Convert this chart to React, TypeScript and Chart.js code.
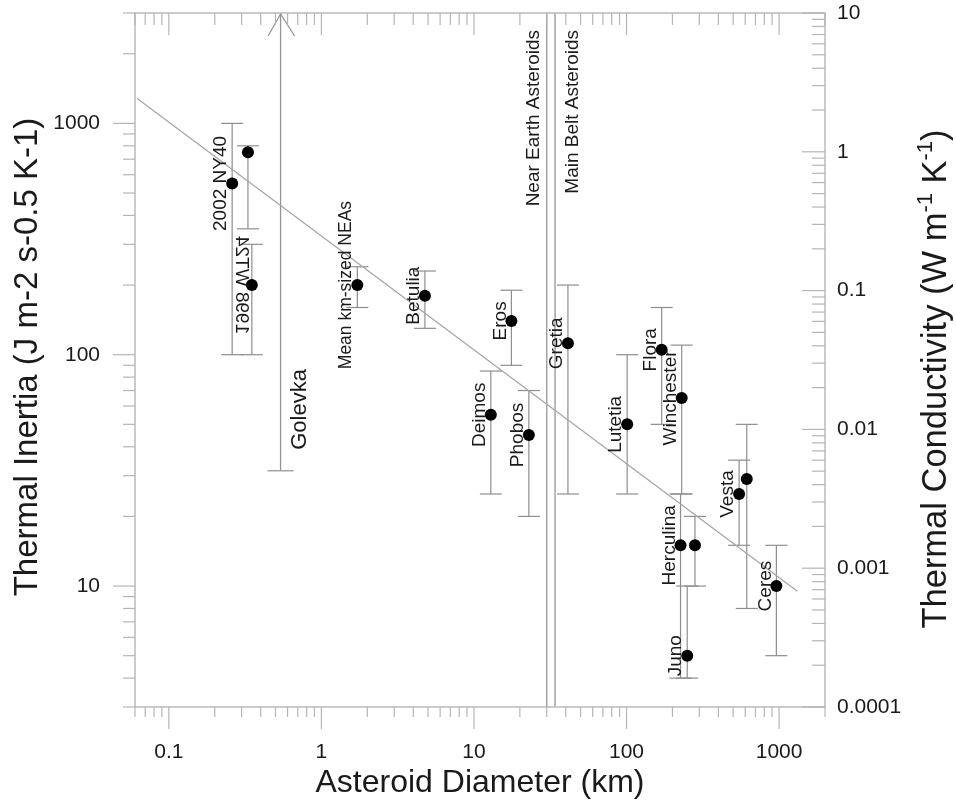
import React, { useEffect, useRef } from 'react';
import { Chart, registerables } from 'chart.js';

Chart.register(...registerables);

// ---- data -------------------------------------------------------------
const asteroidNames = [
  '2002 NY40', '', '1998 WT24', 'Mean km-sized NEAs', 'Betulia', 'Eros', 'Deimos', 'Phobos',
  'Gretia', 'Lutetia', 'Flora', 'Winchester', 'Herculina', '', 'Juno', 'Vesta', '', 'Ceres',
];
const diameterKm = [0.26, 0.33, 0.35, 1.72, 4.77, 17.6, 12.9, 22.9, 41.3, 101, 170, 230, 226, 281, 250, 547, 614, 960];
const inertia = [550, 750, 200, 200, 180, 140, 55, 45, 112, 50, 105, 65, 15, 15, 5, 25, 29, 10];
const inertiaLow = [100, 350, 100, 160, 130, 90, 25, 20, 25, 25, 50, 25, 4, 10, 4, 15, 8, 5];
const inertiaHigh = [1000, 800, 300, 240, 230, 190, 85, 70, 200, 100, 160, 110, 25, 20, 10, 35, 50, 15];

// Golevka: lower limit only
const golevkaDiameter = 0.54;
const golevkaLowerLimit = 31.5;
const golevkaLabelAt = 58;

// Power-law fit, end points
const fitDiameter = [0.062, 1320];
const fitInertia = [1280, 9.5];

// Size boundary between the two populations
const neaBoundaryKm = 30;
const mbaBoundaryKm = 34;

// Axis ranges and labelled ticks
const diameterRange = [0.06, 2000];
const inertiaRange = [3, 3000];
const conductivityRange = [0.0001, 10];
const diameterTicks = [0.1, 1, 10, 100, 1000];
const inertiaTicks = [10, 100, 1000];
const conductivityTicks = [0.0001, 0.001, 0.01, 0.1, 1, 10];

// ---- drawing helpers -------------------------------------------------
const FONT = "'Liberation Sans', Arial, Helvetica, sans-serif";
const TEXT = '#1a1a1a';
const AXIS = '#b5b5b5';
const BAR = '#8e8e8e';

function logSteps(range: number[]) {
  const out: { v: number; major: boolean }[] = [];
  const e0 = Math.floor(Math.log10(range[0]));
  const e1 = Math.ceil(Math.log10(range[1]));
  for (let e = e0; e <= e1; e++) {
    for (let k = 1; k <= 9; k++) {
      const v = k * Math.pow(10, e);
      if (v >= range[0] * 0.9999 && v <= range[1] * 1.0001) out.push({ v, major: k === 1 });
    }
  }
  return out;
}

function seg(ctx: CanvasRenderingContext2D, x1: number, y1: number, x2: number, y2: number) {
  ctx.beginPath();
  ctx.moveTo(x1, y1);
  ctx.lineTo(x2, y2);
  ctx.stroke();
}

function verticalText(
  ctx: CanvasRenderingContext2D, text: string, x: number, y: number, size: number,
  align: CanvasTextAlign = 'center', mirrored = false,
) {
  ctx.save();
  ctx.translate(x, y);
  ctx.rotate(-Math.PI / 2);
  if (mirrored) ctx.scale(1, -1);
  ctx.font = `${size}px ${FONT}`;
  ctx.fillStyle = TEXT;
  ctx.textAlign = align;
  ctx.textBaseline = 'middle';
  ctx.fillText(text, 0, 0);
  ctx.restore();
}

const mirroredLabels = new Set(['1998 WT24']);
const labelSize: Record<string, number> = { 'Mean km-sized NEAs': 17.5 };

const overlay = {
  id: 'overlay',
  beforeDatasetsDraw(chart: any) {
    const { ctx, chartArea: a, scales } = chart;
    const sx = scales.x;
    const sy = scales.y;
    ctx.save();

    // population boundary
    ctx.strokeStyle = '#9c9c9c';
    ctx.lineWidth = 1.4;
    for (const d of [neaBoundaryKm, mbaBoundaryKm]) {
      const px = sx.getPixelForValue(d);
      seg(ctx, px, a.top, px, a.bottom);
    }

    // Golevka lower limit with arrow
    ctx.strokeStyle = '#969696';
    ctx.lineWidth = 1.3;
    const gx = sx.getPixelForValue(golevkaDiameter);
    const gy = sy.getPixelForValue(golevkaLowerLimit);
    seg(ctx, gx, a.top, gx, gy);
    seg(ctx, gx - 13, gy, gx + 13, gy);
    ctx.beginPath();
    ctx.moveTo(gx - 12.5, a.top + 23);
    ctx.lineTo(gx, a.top + 1);
    ctx.lineTo(gx + 14, a.top + 23);
    ctx.stroke();

    // error bars
    ctx.strokeStyle = BAR;
    ctx.lineWidth = 1.2;
    diameterKm.forEach((d, i) => {
      const px = sx.getPixelForValue(d);
      const yl = sy.getPixelForValue(inertiaLow[i]);
      const yh = sy.getPixelForValue(inertiaHigh[i]);
      seg(ctx, px, yh, px, yl);
      seg(ctx, px - 11, yh, px + 11, yh);
      seg(ctx, px - 11, yl, px + 11, yl);
    });
    ctx.restore();
  },
  afterDatasetsDraw(chart: any) {
    const { ctx, chartArea: a, scales } = chart;
    const sx = scales.x;
    const sy = scales.y;
    const sy2 = scales.y2;
    ctx.save();

    // frame
    ctx.strokeStyle = AXIS;
    ctx.lineWidth = 1.4;
    ctx.strokeRect(a.left, a.top, a.right - a.left, a.bottom - a.top);

    // tick marks
    ctx.lineWidth = 1.2;
    for (const t of logSteps(diameterRange)) {
      const px = sx.getPixelForValue(t.v);
      seg(ctx, px, a.bottom, px, a.bottom + (t.major ? 22 : 10));
      seg(ctx, px, a.top, px, a.top + (t.major ? 22 : 12));
    }
    for (const t of logSteps(inertiaRange)) {
      const py = sy.getPixelForValue(t.v);
      seg(ctx, a.left - (t.major ? 22 : 12), py, a.left, py);
    }
    for (const t of logSteps(conductivityRange)) {
      const py = sy2.getPixelForValue(t.v);
      seg(ctx, a.right - (t.major ? 23 : 13), py, a.right, py);
    }

    // point labels
    asteroidNames.forEach((name, i) => {
      if (!name) return;
      const px = sx.getPixelForValue(diameterKm[i]) - 11;
      const py = sy.getPixelForValue(inertia[i]);
      verticalText(ctx, name, px, py, labelSize[name] ?? 19, 'center', mirroredLabels.has(name));
    });
    verticalText(ctx, 'Golevka', sx.getPixelForValue(golevkaDiameter) + 19, sy.getPixelForValue(golevkaLabelAt), 22);
    verticalText(ctx, 'Near Earth Asteroids', sx.getPixelForValue(neaBoundaryKm) - 13, a.top + 17, 19, 'right');
    verticalText(ctx, 'Main Belt Asteroids', sx.getPixelForValue(mbaBoundaryKm) + 18, a.top + 17, 19, 'right');

    // axis titles
    ctx.fillStyle = TEXT;
    ctx.font = `32px ${FONT}`;
    ctx.textAlign = 'center';
    ctx.textBaseline = 'middle';
    ctx.fillText('Asteroid Diameter (km)', (a.left + a.right) / 2, 783);

    verticalText(ctx, 'Thermal Inertia (J m-2 s-0.5 K-1)', 28, 357, 33);

    // right title with superscripts
    const parts: [string, boolean][] = [
      ['Thermal Conductivity (W m', false], ['-1', true], [' K', false], ['-1', true], [')', false],
    ];
    const size = 34.5;
    const supSize = 22;
    ctx.save();
    ctx.translate(936, 379);
    ctx.rotate(-Math.PI / 2);
    ctx.textAlign = 'left';
    ctx.textBaseline = 'middle';
    let total = 0;
    for (const [s, sup] of parts) {
      ctx.font = `${sup ? supSize : size}px ${FONT}`;
      total += ctx.measureText(s).width;
    }
    let cx = -total / 2;
    for (const [s, sup] of parts) {
      ctx.font = `${sup ? supSize : size}px ${FONT}`;
      ctx.fillText(s, cx, sup ? -10.5 : 0);
      cx += ctx.measureText(s).width;
    }
    ctx.restore();

    ctx.restore();
  },
};

const fixedTicks = (values: number[]) => (scale: any) => {
  scale.ticks = values.map((value) => ({ value }));
};

// pin a scale's box size and drop the label overhang padding
const pinSize = (dim: 'width' | 'height', px: number) => (s: any) => {
  s[dim] = px;
  s.paddingTop = 0;
  s.paddingBottom = 0;
  s.paddingLeft = 0;
  s.paddingRight = 0;
};

export default function App() {
  const canvasRef = useRef<HTMLCanvasElement | null>(null);

  useEffect(() => {
    const canvas = canvasRef.current;
    if (!canvas) return;
    const tickFont = { family: FONT, size: 21 };
    const chart = new Chart(canvas, {
      type: 'scatter',
      data: {
        datasets: [
          {
            type: 'line',
            data: fitDiameter.map((d, i) => ({ x: d, y: fitInertia[i] })),
            borderColor: '#a6a6a6',
            borderWidth: 1.3,
            pointRadius: 0,
            fill: false,
            order: 2,
          } as any,
          {
            data: diameterKm.map((d, i) => ({ x: d, y: inertia[i] })),
            pointRadius: 6,
            pointHoverRadius: 6,
            backgroundColor: '#000',
            borderColor: '#000',
            borderWidth: 0,
            order: 1,
          },
        ],
      },
      options: {
        animation: false,
        responsive: false,
        devicePixelRatio: 1,
        events: [],
        layout: { padding: 0, autoPadding: false },
        plugins: { legend: { display: false }, tooltip: { enabled: false } },
        scales: {
          x: {
            type: 'logarithmic',
            position: 'bottom',
            min: diameterRange[0],
            max: diameterRange[1],
            grid: { display: false, drawTicks: false },
            border: { display: false },
            afterBuildTicks: fixedTicks(diameterTicks),
            afterFit: pinSize('height', 97),
            ticks: {
              autoSkip: false, maxRotation: 0, padding: 33, color: TEXT, font: tickFont,
              callback: (v: any) => String(v),
            },
          },
          x2: {
            type: 'logarithmic',
            position: 'top',
            min: diameterRange[0],
            max: diameterRange[1],
            grid: { display: false, drawTicks: false },
            border: { display: false },
            ticks: { display: false },
            afterFit: pinSize('height', 13),
          },
          y: {
            type: 'logarithmic',
            position: 'left',
            min: inertiaRange[0],
            max: inertiaRange[1],
            grid: { display: false, drawTicks: false },
            border: { display: false },
            afterBuildTicks: fixedTicks(inertiaTicks),
            afterFit: pinSize('width', 135),
            ticks: {
              autoSkip: false, padding: 35, color: TEXT, font: tickFont,
              callback: (v: any) => String(v),
            },
          },
          y2: {
            type: 'logarithmic',
            position: 'right',
            min: conductivityRange[0],
            max: conductivityRange[1],
            grid: { display: false, drawTicks: false },
            border: { display: false },
            afterBuildTicks: fixedTicks(conductivityTicks),
            afterFit: pinSize('width', 131),
            ticks: {
              autoSkip: false, padding: 12, color: TEXT, font: tickFont,
              callback: (v: any) => String(v),
            },
          },
        },
      } as any,
      plugins: [overlay],
    });
    return () => chart.destroy();
  }, []);

  return (
    <div style={{ position: 'fixed', left: 0, top: 0, width: 956, height: 804, background: '#fff' }}>
      <canvas ref={canvasRef} width={956} height={804} />
    </div>
  );
}
